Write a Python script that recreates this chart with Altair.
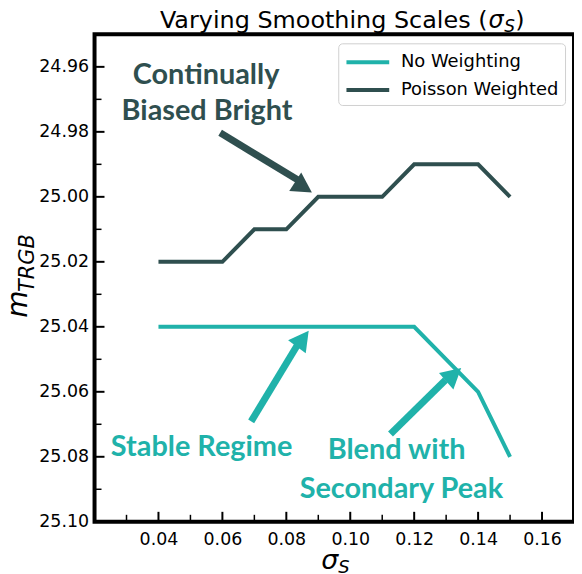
import altair as alt
import pandas as pd

# ---- data ----
sigma = [0.04, 0.05, 0.06, 0.07, 0.08, 0.09, 0.10, 0.11, 0.12, 0.13, 0.14, 0.15]
no_weighting = [25.04, 25.04, 25.04, 25.04, 25.04, 25.04, 25.04, 25.04, 25.04, 25.05, 25.06, 25.08]
poisson_weighted = [25.02, 25.02, 25.02, 25.01, 25.01, 25.00, 25.00, 25.00, 24.99, 24.99, 24.99, 25.00]
series_names = ["No Weighting", "Poisson Weighted"]
series_colors = ["#20b2aa", "#2f4f4f"]

x_major = [0.04, 0.06, 0.08, 0.10, 0.12, 0.14, 0.16]
x_minor = [0.03, 0.05, 0.07, 0.09, 0.11, 0.13, 0.15]
y_major = [24.96, 24.98, 25.00, 25.02, 25.04, 25.06, 25.08, 25.10]
y_minor = [24.97, 24.99, 25.01, 25.03, 25.05, 25.07, 25.09]

ann_text = ["Continually", "Biased Bright", "Stable Regime", "Blend with", "Secondary Peak"]
ann_x = [0.0549, 0.0552, 0.0535, 0.1145, 0.1160]
ann_y = [24.9625, 24.9735, 25.0770, 25.0778, 25.0900]
ann_color = ["#2f4f4f", "#2f4f4f", "#20b2aa", "#20b2aa", "#20b2aa"]

arrow_tail_x = [0.0593, 0.0690, 0.1126]
arrow_tail_y = [24.9803, 25.0691, 25.0730]
arrow_base_x = [0.0839, 0.0839, 0.1298]
arrow_base_y = [24.9950, 25.0449, 25.0564]
arrow_tip_x = [0.0880, 0.0870, 0.1347]
arrow_tip_y = [24.9987, 25.0412, 25.0527]
arrow_angle = [123.1, 36.3, 48.9]
arrow_color = ["#2f4f4f", "#20b2aa", "#20b2aa"]

# ---- tables ----
lines_df = pd.DataFrame({
    "sigma": sigma * 2,
    "m": no_weighting + poisson_weighted,
    "series": [series_names[0]] * len(sigma) + [series_names[1]] * len(sigma),
})
ann_df = pd.DataFrame({"text": ann_text, "x": ann_x, "y": ann_y, "c": ann_color})
arrow_df = pd.DataFrame({
    "tx": arrow_tail_x, "ty": arrow_tail_y,
    "bx": arrow_base_x, "by": arrow_base_y,
    "hx": arrow_tip_x, "hy": arrow_tip_y,
    "ang": arrow_angle, "c": arrow_color,
})
one = pd.DataFrame({"d": [0]})

W, H = 482, 490
xscale = alt.Scale(domain=[0.02, 0.17], nice=False, zero=False)
yscale = alt.Scale(domain=[24.95, 25.10], nice=False, zero=False, reverse=True)

xax = alt.Axis(values=x_major, format=".2f", title=None, ticks=False, domain=False,
               grid=False, labelFontSize=17.5, labelPadding=9, labelFont="DejaVu Sans",
               labelColor="black")
yax = alt.Axis(values=y_major, format=".2f", title=None, ticks=False, domain=False,
               grid=False, labelFontSize=17.5, labelPadding=6, labelFont="DejaVu Sans",
               labelColor="black")

lines = alt.Chart(lines_df).mark_line(strokeWidth=4, strokeJoin="miter").encode(
    x=alt.X("sigma:Q", scale=xscale, axis=xax),
    y=alt.Y("m:Q", scale=yscale, axis=yax),
    color=alt.Color("series:N", scale=alt.Scale(domain=series_names, range=series_colors),
                    legend=alt.Legend(title=None, symbolType="M-1,0L3,0", symbolSize=462,
                                      symbolStrokeWidth=4, labelOffset=31)),
)

xt_major = alt.Chart(pd.DataFrame({"v": x_major})).mark_rule(color="black", strokeWidth=2).encode(
    x=alt.X("v:Q", scale=xscale), y=alt.value(H + 1), y2=alt.value(H - 10))
xt_minor = alt.Chart(pd.DataFrame({"v": x_minor})).mark_rule(color="black", strokeWidth=1.5).encode(
    x=alt.X("v:Q", scale=xscale), y=alt.value(H + 1), y2=alt.value(H - 7))
yt_major = alt.Chart(pd.DataFrame({"v": y_major})).mark_rule(color="black", strokeWidth=2).encode(
    y=alt.Y("v:Q", scale=yscale), x=alt.value(-1), x2=alt.value(10))
yt_minor = alt.Chart(pd.DataFrame({"v": y_minor})).mark_rule(color="black", strokeWidth=1.5).encode(
    y=alt.Y("v:Q", scale=yscale), x=alt.value(-1), x2=alt.value(7))

shafts = alt.Chart(arrow_df).mark_rule(strokeWidth=7, strokeCap="butt").encode(
    x=alt.X("tx:Q", scale=xscale), y=alt.Y("ty:Q", scale=yscale),
    x2="bx:Q", y2="by:Q",
    color=alt.Color("c:N", scale=None),
)
heads = alt.Chart(arrow_df).mark_point(
    shape="M0,0L0.55,1L-0.55,1Z", filled=True, size=1600, opacity=1, strokeWidth=0
).encode(
    x=alt.X("hx:Q", scale=xscale), y=alt.Y("hy:Q", scale=yscale),
    angle=alt.Angle("ang:Q", scale=None),
    color=alt.Color("c:N", scale=None),
)

ann = alt.Chart(ann_df).mark_text(font="Lato", fontWeight="bold", fontSize=29,
                                  baseline="middle", align="center").encode(
    x=alt.X("x:Q", scale=xscale), y=alt.Y("y:Q", scale=yscale),
    text="text:N", color=alt.Color("c:N", scale=None),
)

def ptext(txt, x, y, size, italic=False, align="left", angle=0):
    kw = dict(text=txt, fontSize=size, align=align, baseline="alphabetic",
              font="DejaVu Sans", color="black")
    if italic:
        kw["fontStyle"] = "italic"
    if angle:
        kw["angle"] = angle
    return alt.Chart(one).mark_text(**kw).encode(x=alt.value(x), y=alt.value(y))

title_parts = [
    ptext("Varying Smoothing Scales (", 395, -6, 24, align="right"),
    ptext("σ", 396, -6, 24, italic=True),
    ptext("S", 412, -2, 17, italic=True),
    ptext(")", 423, -6, 24),
    ptext("σ", 228, 537, 27, italic=True),
    ptext("S", 245, 541, 18, italic=True),
    ptext("m", -68, 285, 28, italic=True, angle=270),
    ptext("TRGB", -61, 259, 21, italic=True, angle=270),
]

chart = alt.layer(
    lines, xt_major, xt_minor, yt_major, yt_minor, shafts, heads, ann, *title_parts
).properties(
    width=W, height=H,
    padding={"left": 87, "top": 25, "right": 0, "bottom": 51},
    autosize=alt.AutoSizeParams(type="none"),
).configure_view(
    stroke="black", strokeWidth=4
).configure_legend(
    orient="top-right", offset=9, strokeColor="#d0d0d0", strokeWidth=1, cornerRadius=4,
    fillColor="white", padding=6, labelFontSize=18, labelFont="DejaVu Sans",
    labelColor="black", rowPadding=6,
)

chart.save("out.html", embed_options={"renderer": "svg", "actions": False})
